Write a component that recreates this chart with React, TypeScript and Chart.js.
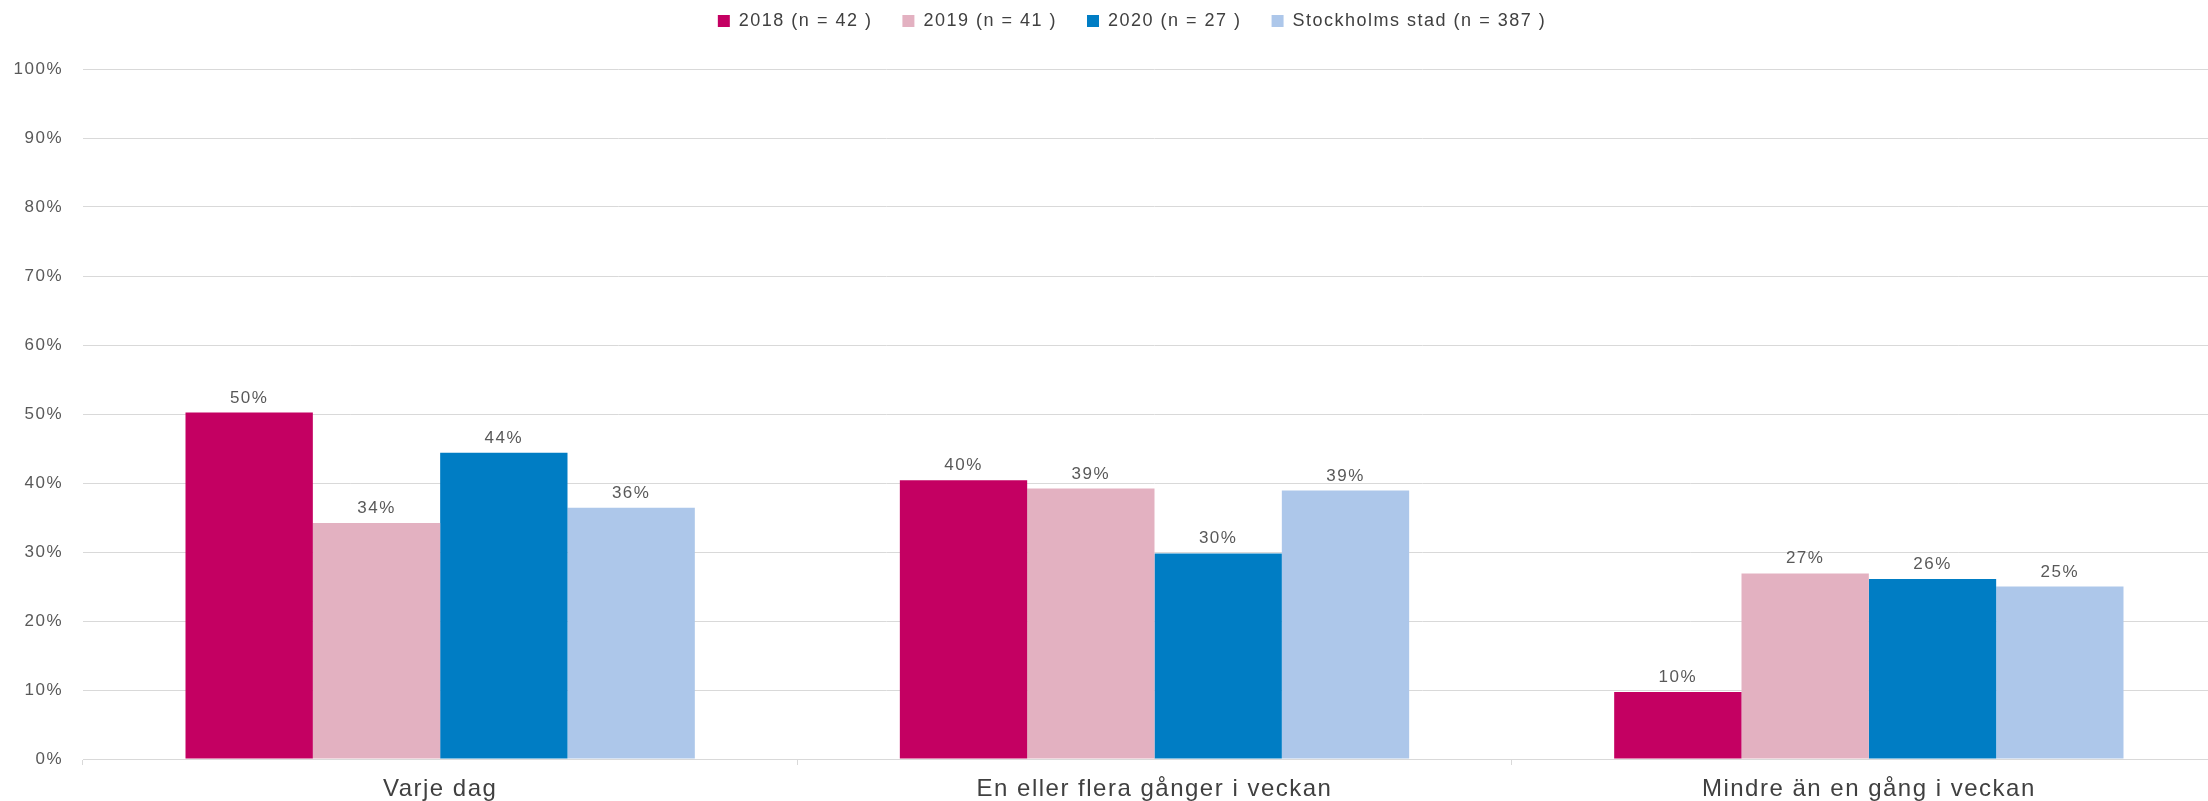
import React, { useEffect, useRef } from "react";
import { Chart, registerables } from "chart.js";

Chart.register(...registerables);

const categories = ["Varje dag", "En eller flera gånger i veckan", "Mindre än en gång i veckan"];
const seriesLabels = ["2018 (n = 42 )", "2019 (n = 41 )", "2020 (n = 27 )", "Stockholms stad (n = 387 )"];
const values2018 = [50.2, 40.4, 9.7];
const values2019 = [34.2, 39.2, 26.9];
const values2020 = [44.4, 29.8, 26.1];
const valuesStockholm = [36.4, 38.9, 25.0];
const seriesColors = ["#C40062", "#E3B1C1", "#007DC4", "#ADC7EA"];
const yTicks = [0, 10, 20, 30, 40, 50, 60, 70, 80, 90, 100];

const FONT = "'Liberation Sans', Arial, sans-serif";

export default function App() {
  const ref = useRef<HTMLCanvasElement | null>(null);

  useEffect(() => {
    document.body.style.margin = "0";
    document.body.style.overflow = "hidden";
    const canvas = ref.current;
    if (!canvas) return;

    const spacingPlugin = {
      id: "spacing",
      beforeInit(chart: any) {
        chart.ctx.letterSpacing = "1.5px";
      },
      afterInit(chart: any) {
        const legend = chart.legend;
        if (legend) {
          const origFit = legend.fit.bind(legend);
          legend.fit = function () {
            origFit();
            this.height = 69;
          };
          const origDraw = legend.draw.bind(legend);
          legend.draw = function () {
            const c = this.ctx;
            c.save();
            c.translate(12, -18);
            origDraw();
            c.restore();
          };
        }
      },
      beforeUpdate(chart: any) {
        chart.ctx.letterSpacing = "1.5px";
      },
      beforeDraw(chart: any) {
        chart.ctx.letterSpacing = "1.5px";
      },
    };

    const valueLabelPlugin = {
      id: "valueLabels",
      afterDatasetsDraw(chart: any) {
        const ctx = chart.ctx;
        ctx.save();
        ctx.font = `17px ${FONT}`;
        ctx.fillStyle = "#595959";
        ctx.textAlign = "center";
        ctx.textBaseline = "alphabetic";
        chart.data.datasets.forEach((ds: any, i: number) => {
          const meta = chart.getDatasetMeta(i);
          meta.data.forEach((bar: any, j: number) => {
            const v = ds.data[j];
            ctx.fillText(Math.round(v) + "%", bar.x, bar.y - 10);
          });
        });
        ctx.restore();
      },
    };

    const chart = new Chart(canvas, {
      type: "bar",
      data: {
        labels: categories,
        datasets: [values2018, values2019, values2020, valuesStockholm].map((d, i) => ({
          label: seriesLabels[i],
          data: d,
          backgroundColor: seriesColors[i],
          borderWidth: 0,
          categoryPercentage: 0.713,
          barPercentage: 1.0,
        })),
      },
      options: {
        animation: false,
        responsive: true,
        maintainAspectRatio: false,
        layout: { padding: { left: 14, right: 0, top: 0, bottom: 0 } },
        plugins: {
          legend: {
            position: "top",
            align: "center",
            labels: {
              boxWidth: 12,
              boxHeight: 12,
              padding: 30,
              color: "#404040",
              font: { size: 18, family: FONT },
            },
          },
          tooltip: { enabled: false },
          title: { display: false },
        },
        scales: {
          x: {
            afterFit(scale: any) {
              scale.height = 42;
            },
            grid: {
              display: true,
              drawOnChartArea: false,
              drawTicks: true,
              tickLength: 6,
              color: "#d9d9d9",
              offset: true,
            },
            border: { display: true, color: "#d9d9d9" },
            ticks: {
              color: "#404040",
              padding: 10,
              font: { size: 24, family: FONT },
            },
          },
          y: {
            min: 0,
            max: 100,
            afterBuildTicks(scale: any) {
              scale.ticks = yTicks.map((v) => ({ value: v }));
            },
            afterFit(scale: any) {
              scale.width = 69;
            },
            grid: {
              color: "#d9d9d9",
              lineWidth: 1,
              drawTicks: false,
            },
            border: { display: false },
            ticks: {
              color: "#595959",
              padding: 20,
              font: { size: 17, family: FONT },
              callback: (v: any) => v + "%",
            },
          },
        },
      },
      plugins: [spacingPlugin, valueLabelPlugin],
    });

    return () => chart.destroy();
  }, []);

  return (
    <div style={{ position: "fixed", left: 0, top: 0, width: "2226px", height: "801px" }}>
      <canvas ref={ref} />
    </div>
  );
}
